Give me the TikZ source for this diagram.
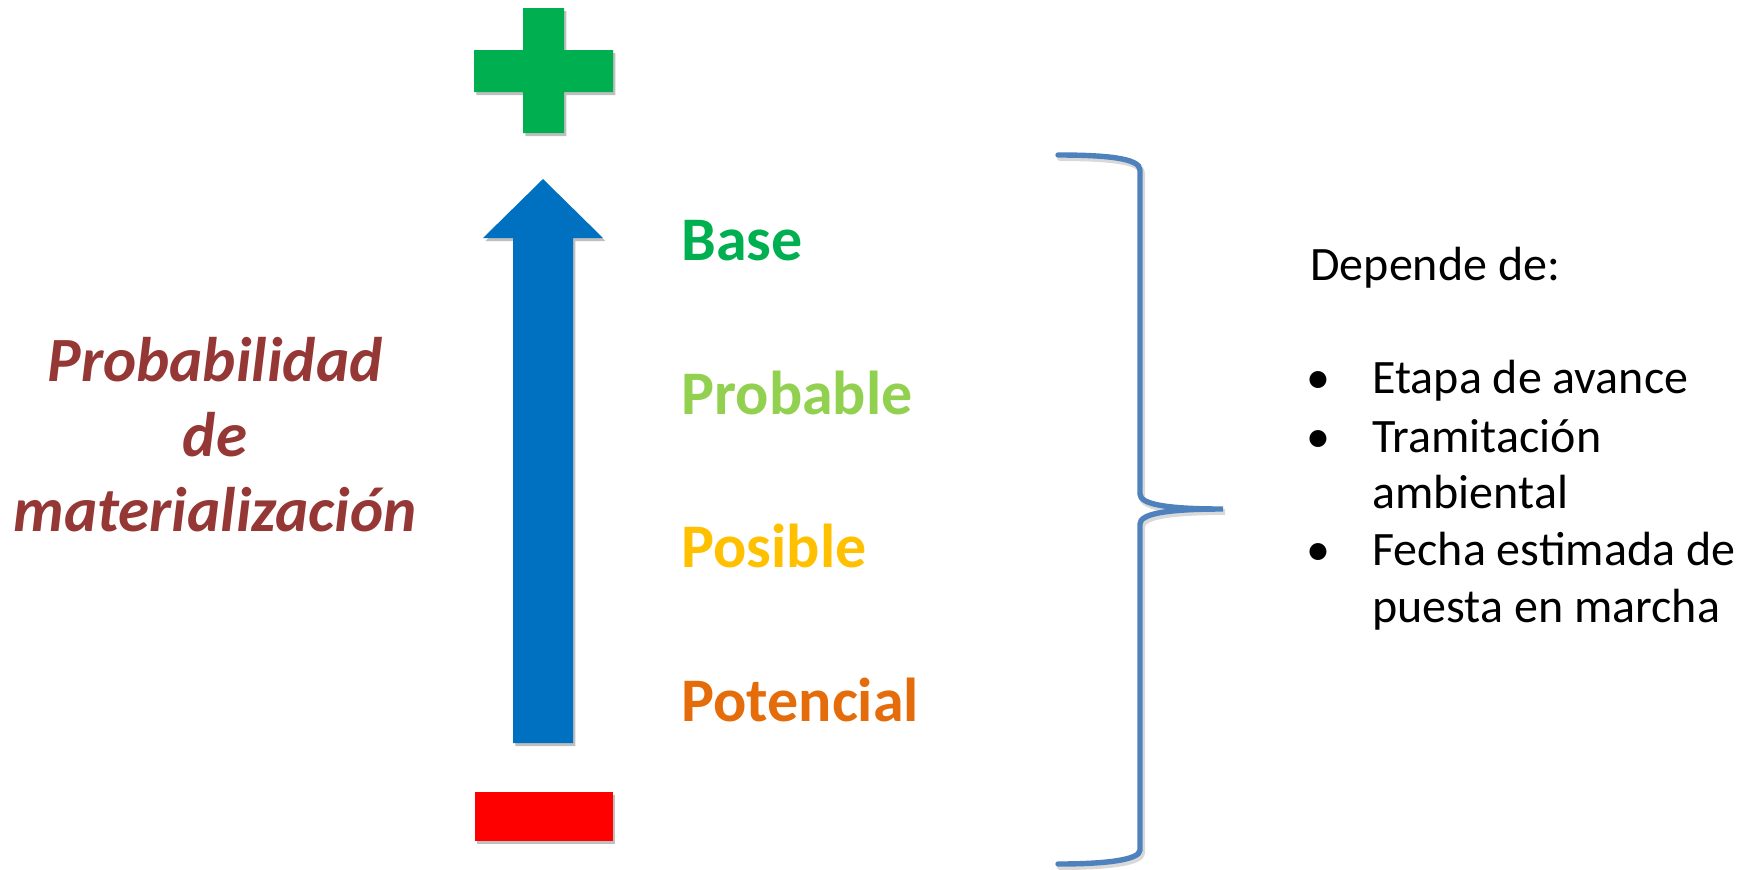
\documentclass[tikz,border=0pt]{standalone}
\usepackage{fontspec}
\setmainfont{Carlito}
\usetikzlibrary{shadows}
\definecolor{plusgreen}{HTML}{00B050}
\definecolor{lightgreen}{HTML}{92D050}
\definecolor{amber}{HTML}{FFC000}
\definecolor{orangeb}{HTML}{E46C0A}
\definecolor{arrowblue}{HTML}{0070C0}
\definecolor{bracebl}{HTML}{4F81BD}
\definecolor{wine}{HTML}{953735}
\tikzset{
  shadowed/.style={drop shadow={shadow xshift=1.2pt, shadow yshift=-1.5pt, opacity=0.25, fill=black}},
  level/.style={font=\fontsize{31}{37}\selectfont\bfseries, anchor=base west, inner sep=0pt},
  note/.style={font=\fontsize{24}{28.5}\selectfont, anchor=base west, inner sep=0pt},
  dot/.style={font=\fontsize{24}{28.5}\selectfont, anchor=base, inner sep=0pt},
}
\begin{document}
\begin{tikzpicture}[x=0.5pt, y=-0.5pt]
\useasboundingbox (0,0) rectangle (1750,869);

% plus sign
\fill[plusgreen, shadowed] (523,8) -- (564,8) -- (564,50) -- (613,50) -- (613,92) -- (564,92)
  -- (564,133) -- (523,133) -- (523,92) -- (474,92) -- (474,50) -- (523,50) -- cycle;

% upward arrow
\fill[arrowblue, shadowed] (543,179) -- (603,238) -- (573,238) -- (573,743) -- (513,743)
  -- (513,238) -- (483,238) -- cycle;

% minus sign
\fill[red, shadowed] (475,792) rectangle (613,841);

% levels
\node[level, text=plusgreen]  (base) at (681,260) {Base};
\node[level, text=lightgreen] (prob) at (681,414) {Probable};
\node[level, text=amber]      (posi) at (681,567) {Posible};
\node[level, text=orangeb]    (pote) at (681,721) {Potencial};

% axis title
\node[font=\fontsize{31.5}{37.5}\selectfont\bfseries\itshape, text=wine, align=center,
      inner sep=0pt, anchor=center] (title) at (215,435)
  {Probabilidad\\de\\materialización};

% curly brace with a soft shadow
\def\bracepath{(1058,155) .. controls (1105,155) and (1140,158) .. (1140,170)
  -- (1140,494) .. controls (1140,504) and (1165,509) .. (1223,509)
  .. controls (1165,509) and (1140,514) .. (1140,524)
  -- (1140,850) .. controls (1140,860) and (1105,864) .. (1058,864)}
\draw[black, opacity=0.15, line width=3pt, line cap=round, shift={(2,3)}] \bracepath;
\draw[bracebl, line width=2.7pt, line cap=round] \bracepath;
\coordinate (tip) at (1223,509);

% conditions
\node[note] (dep) at (1310,280) {Depende de:};
\node[dot] (b1) at (1318,393) {•};
\node[note] (i1) at (1372,393) {Etapa de avance};
\node[dot] (b2) at (1318,452) {•};
\node[note] (i2) at (1372,452) {Tramitación};
\node[note] (i2b) at (1372,508) {ambiental};
\node[dot] (b3) at (1318,565) {•};
\node[note] (i3) at (1372,565) {Fecha estimada de};
\node[note] (i3b) at (1372,622) {puesta en marcha};
\end{tikzpicture}
\end{document}
